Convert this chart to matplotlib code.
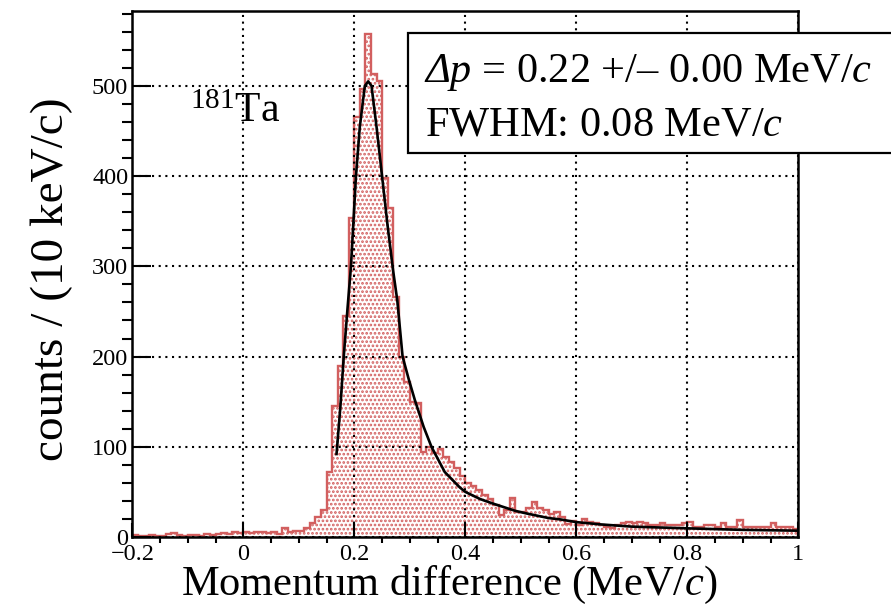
import numpy as np
import matplotlib
matplotlib.use("Agg")
import matplotlib.pyplot as plt
from matplotlib.patches import Rectangle

# ---------------- data ----------------
bin_low = -0.2
bin_high = 1.0
counts = [
    2, 1, 1, 2, 1, 1, 3, 4, 2, 1,
    2, 2, 1, 3, 2, 3, 4, 3, 5, 4,
    5, 4, 6, 5, 4, 5, 3, 10, 5, 7,
    7, 10, 16, 22, 30, 72, 145, 190, 245, 354,
    465, 496, 558, 513, 505, 398, 365, 266, 200, 172,
    150, 148, 94, 100, 93, 98, 89, 83, 76, 68,
    60, 56, 52, 47, 42, 35, 24, 30, 43, 28,
    28, 32, 39, 32, 30, 26, 28, 22, 14, 18,
    13, 20, 17, 15, 13, 11, 10, 13, 15, 17,
    15, 17, 15, 13, 13, 15, 13, 13, 13, 15,
    17, 11, 11, 13, 13, 11, 16, 11, 11, 19,
    11, 11, 11, 11, 11, 15, 11, 11, 11, 9,
]
fit_x = [0.168, 0.175, 0.181, 0.188, 0.194, 0.203, 0.210, 0.219, 0.225, 0.231,
         0.240, 0.250, 0.260, 0.270, 0.2775, 0.287, 0.298, 0.309, 0.325, 0.339,
         0.363, 0.390, 0.400, 0.427, 0.450, 0.490, 0.511, 0.550, 0.571, 0.600,
         0.643, 0.700, 0.800, 0.900, 1.000]
fit_y = [92, 145, 200, 255, 300, 400, 455, 500, 505, 500,
         455, 400, 345, 295, 262, 200, 175, 152, 122, 100,
         72, 55, 50, 42, 37, 29, 26, 21, 19.5, 16.5,
         14, 11.5, 9.6, 7.9, 7]
xticks = [-0.2, 0.0, 0.2, 0.4, 0.6, 0.8, 1.0]
xtick_labels = ["\u22120.2", "0", "0.2", "0.4", "0.6", "0.8", "1"]
yticks = [0, 100, 200, 300, 400, 500]
ytick_labels = ["0", "100", "200", "300", "400", "500"]
ymax = 583

# ---------------- style ----------------
plt.rcParams["font.family"] = ["Liberation Serif", "DejaVu Serif"]
plt.rcParams["mathtext.fontset"] = "custom"
plt.rcParams["mathtext.rm"] = "Liberation Serif"
plt.rcParams["mathtext.it"] = "Liberation Serif:italic"
plt.rcParams["hatch.linewidth"] = 1.3

W, H = 891, 609
fig = plt.figure(figsize=(W / 100, H / 100), dpi=100)
ax = fig.add_axes([132.3 / W, 72 / H, 666 / W, 526 / H])

red = "#d25f5f"
edges = np.linspace(bin_low, bin_high, len(counts) + 1)
ax.stairs(counts, edges, fill=True, facecolor="white", edgecolor=red,
          hatch="....", linewidth=0, zorder=1)
ax.stairs(counts, edges, fill=False, color=red, linewidth=1.7, zorder=1.5)
ax.plot(fit_x, fit_y, color="black", linewidth=1.9, zorder=3)

ax.set_xlim(bin_low, bin_high)
ax.set_ylim(0, ymax)
ax.set_axisbelow(False)
ax.grid(True, which="major", color="black", linestyle=(0, (1, 2.2)), linewidth=1.5)

ax.set_xticks(xticks)
ax.set_xticklabels(xtick_labels)
ax.set_yticks(yticks)
ax.set_yticklabels(ytick_labels)
ax.set_xticks(np.arange(-0.2, 1.0001, 0.05), minor=True)
ax.set_yticks(np.arange(0, ymax, 20), minor=True)
ax.tick_params(axis="both", direction="in", width=1.5, labelsize=17.5,
               top=False, right=False, colors="black")
ax.tick_params(axis="x", which="major", length=10, pad=5)
ax.tick_params(axis="x", which="minor", length=4.5, width=1.5)
ax.tick_params(axis="y", which="major", length=14, pad=3)
ax.tick_params(axis="y", which="minor", length=7, width=1.5)
for s in ax.spines.values():
    s.set_linewidth(1.8)

fig.text(449 / W, 1 - 585 / H, "Momentum difference (MeV/$\\mathit{c}$)",
         fontsize=30.5, ha="center", va="center")
fig.text(52 / W, 1 - 279 / H, "counts / (10 keV/c)", fontsize=34,
         ha="center", va="center", rotation=90)
fig.text(190 / W, 1 - 112 / H, "$^{181}$Ta", fontsize=30, ha="left", va="center")

box = Rectangle((408 / W, 1 - 153 / H), (900 - 408) / W, (153 - 33) / H,
                transform=fig.transFigure, facecolor="white", edgecolor="black",
                linewidth=1.6, zorder=10, clip_on=False)
fig.add_artist(box)
line1_base = 1 - 82 / H
t1 = fig.text(425 / W, line1_base, "\u0394p", fontsize=30.5, fontstyle="italic",
              ha="left", va="baseline", zorder=11)
fig.add_artist(plt.Annotation(" = 0.22 +/\u2013 0.00 MeV/$\\mathit{c}$",
                              xy=(1, line1_base), xycoords=(t1, "figure fraction"),
                              fontsize=30.5, ha="left", va="baseline", zorder=11))
fig.text(425 / W, 1 - 135 / H, "FWHM: 0.08 MeV/$\\mathit{c}$",
         fontsize=30.5, ha="left", va="baseline", zorder=11)

fig.savefig("out.png", dpi=100)
